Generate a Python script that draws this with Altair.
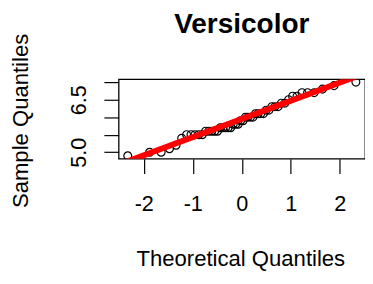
import altair as alt
import numpy as np
import pandas as pd
from statistics import NormalDist

# Iris versicolor sepal length (sample values)
sepal_length = [7.0, 6.4, 6.9, 5.5, 6.5, 5.7, 6.3, 4.9, 6.6, 5.2,
                5.0, 5.9, 6.0, 6.1, 5.6, 6.7, 5.6, 5.8, 6.2, 5.6,
                5.9, 6.1, 6.3, 6.1, 6.4, 6.6, 6.8, 6.7, 6.0, 5.7,
                5.5, 5.5, 5.8, 6.0, 5.4, 6.0, 6.7, 6.3, 5.6, 5.5,
                5.5, 6.1, 5.8, 5.0, 5.6, 5.7, 5.7, 6.2, 5.1, 5.7]
x_ticks = [-2, -1, 0, 1, 2]
y_ticks = [5.0, 5.5, 6.0, 6.5, 7.0]
y_labels_shown = [5.0, 6.5]
line_x = [-3, 3]

n = len(sepal_length)
FONT = "Liberation Sans"

# R-style axis ranges (data range padded by 4%)
zmax = NormalDist().inv_cdf(1 - 0.5 / n)
xpad = 2 * zmax * 0.04
ymin, ymax = min(sepal_length), max(sepal_length)
ypad = (ymax - ymin) * 0.04
xscale = alt.Scale(domain=[-zmax - xpad, zmax + xpad], nice=False, zero=False)
yscale = alt.Scale(domain=[ymin - ypad, ymax + ypad], nice=False, zero=False)

# qqline through the quartiles
q1, q3 = np.quantile(sepal_length, [0.25, 0.75])
z = NormalDist().inv_cdf(0.75)
slope = (q3 - q1) / (2 * z)
intercept = q1 + z * slope
line_df = pd.DataFrame({"x": line_x, "y": [intercept + slope * v for v in line_x]})

lab_expr = " || ".join([f"abs(datum.value - {s}) < 0.001" for s in y_labels_shown])

xaxis = alt.Axis(values=x_ticks, labelExpr="datum.value + ''", title="Theoretical Quantiles",
                 domain=False, grid=False, tickSize=15, tickColor="black", tickWidth=1.2,
                 labelFontSize=22, labelColor="black", labelFont=FONT,
                 labelBaseline="alphabetic", labelPadding=38, labelAlign="center",
                 labelOverlap=False, labelFlush=False,
                 titleFontSize=22.5, titleFont=FONT, titleColor="black", titleFontWeight="normal",
                 titleBaseline="alphabetic", titleY=109, titleX=124, titleAlign="center")
yaxis = alt.Axis(values=y_ticks,
                 labelExpr=f"({lab_expr}) ? format(datum.value, '.1f') : ''",
                 title="Sample Quantiles",
                 domain=False, grid=False, tickSize=15, tickColor="black", tickWidth=1.2,
                 labelFontSize=22, labelColor="black", labelFont=FONT, labelAngle=270,
                 labelAlign="center", labelBaseline="alphabetic", labelPadding=18.7,
                 labelOverlap=False, labelFlush=False, labelBound=False,
                 titleFontSize=22.5, titleFont=FONT, titleColor="black", titleFontWeight="normal",
                 titleAngle=270, titleBaseline="alphabetic", titleX=-92.7, titleY=42,
                 titleAlign="center")

points = alt.Chart(pd.DataFrame({"v": sepal_length})).transform_window(
    rn="row_number()", sort=[alt.SortField("v")]
).transform_calculate(
    q=f"quantileNormal((datum.rn - 0.5) / {n})"
).mark_point(shape="circle", filled=False, color="black", size=64, strokeWidth=1.2,
             clip=True, opacity=1).encode(
    x=alt.X("q:Q", scale=xscale, axis=xaxis),
    y=alt.Y("v:Q", scale=yscale, axis=yaxis),
)

qqline = alt.Chart(line_df).mark_line(color="#ff0000", strokeWidth=6, clip=True).encode(
    x=alt.X("x:Q", scale=xscale, axis=xaxis),
    y=alt.Y("y:Q", scale=yscale, axis=yaxis),
)

chart = alt.layer(points, qqline).properties(
    width=251, height=81,
    title=alt.TitleParams("Versicolor", font=FONT, fontSize=28.5, fontWeight="bold",
                          color="black", anchor="middle", frame="group", offset=0, dy=28,
                          baseline="alphabetic"),
    autosize=alt.AutoSizeParams(type="none"),
    padding={"left": 112.7, "top": 70, "right": 0, "bottom": 117},
).configure(
    background="white",
    view=alt.ViewConfig(stroke="black", strokeWidth=1.3),
)

chart.save("out.html", embed_options={"renderer": "svg", "actions": False})
